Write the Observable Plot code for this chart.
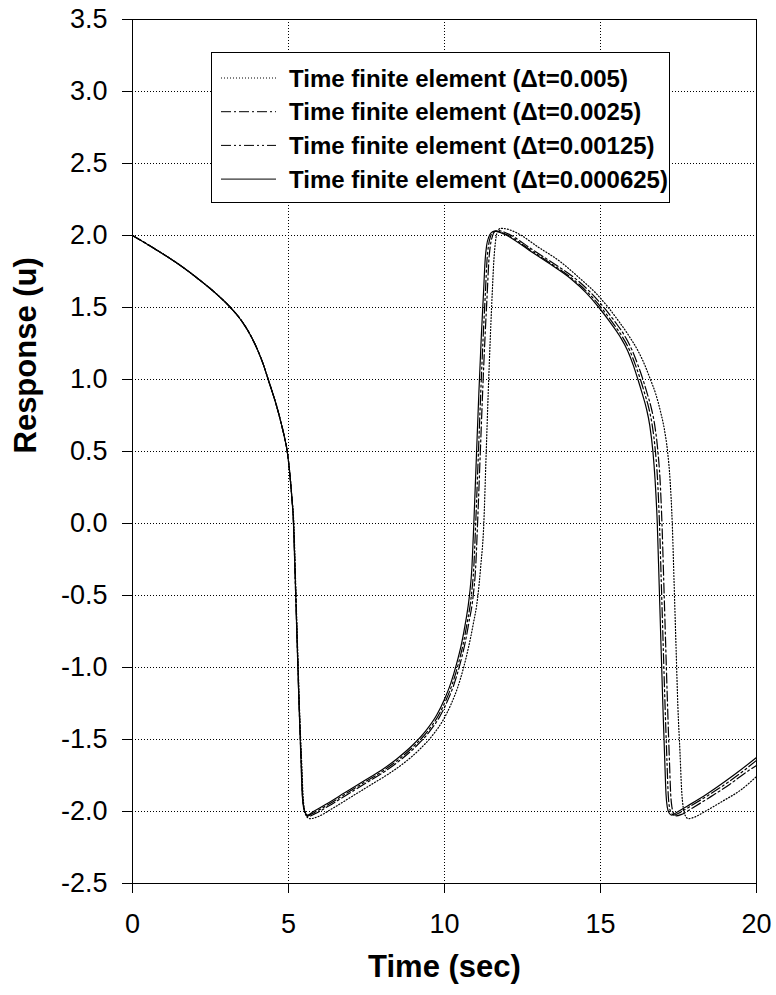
<!DOCTYPE html>
<html><head><meta charset="utf-8">
<script src="https://cdn.jsdelivr.net/npm/d3@7"></script>
<script src="https://cdn.jsdelivr.net/npm/@observablehq/plot@0.6"></script>
<style>
body{margin:0;background:#fff;}
#wrap{position:relative;width:776px;height:995px;font-family:"Liberation Sans",Arial,sans-serif;}
#legend{position:absolute;left:211px;top:52px;width:457px;height:149px;border:1px solid #000;background:#fff;}
</style></head>
<body><div id="wrap"><div id="legend"></div></div>
<script>
// ---- data ([time, response]) ----
const xTicks = [0, 5, 10, 15, 20];
const yTicks = [-2.5, -2.0, -1.5, -1.0, -0.5, 0.0, 0.5, 1.0, 1.5, 2.0, 2.5, 3.0, 3.5];
const seriesNames = [
  "Time finite element (\u0394t=0.005)",
  "Time finite element (\u0394t=0.0025)",
  "Time finite element (\u0394t=0.00125)",
  "Time finite element (\u0394t=0.000625)"
];
const dashes = ["1,2", "10,3,2,3", "10,3,2,3,2,3", null];

// common first branch (all step sizes coincide)
const common = [[0,2.0],[0.77,1.9],[1.48,1.8],[2.1,1.7],[2.66,1.6],[3.14,1.5],[3.52,1.4],[3.8,1.3],[4.02,1.2],[4.2,1.1],[4.35,1.0],[4.5,0.9],[4.64,0.8],[4.76,0.7],[4.87,0.6],[4.96,0.5],[5.04,0.35],[5.1,0.2]];

// dt = 0.005 (dotted)
const dt005 = [[5.17,0],[5.23,-0.42],[5.29,-0.85],[5.35,-1.27],[5.42,-1.65],[5.47,-1.9],[5.52,-2.0],[5.6,-2.04],
  [5.7,-2.05],[5.95,-2.035],[6.4,-1.98],[7.0,-1.9],[7.6,-1.82],[8.2,-1.74],[8.72,-1.66],[9.22,-1.565],[9.62,-1.47],[9.97,-1.36],[10.22,-1.25],[10.42,-1.14],[10.6,-1.01],[10.77,-0.86],[10.92,-0.7],[11.06,-0.52],[11.16,-0.3],[11.26,0],
  [11.33,0.45],[11.4,0.9],[11.47,1.3],[11.53,1.6],[11.58,1.82],[11.63,1.95],[11.7,2.03],[11.8,2.05],[12.0,2.045],[12.3,2.02],
  [13.0,1.92],[13.7,1.82],[14.35,1.7],[14.85,1.6],[15.25,1.5],[15.6,1.4],[15.92,1.3],[16.2,1.2],[16.42,1.1],[16.6,1.0],[16.77,0.9],[16.92,0.78],[17.05,0.65],[17.15,0.5],[17.23,0.3],[17.3,0],
  [17.36,-0.42],[17.42,-0.85],[17.48,-1.27],[17.55,-1.6],[17.6,-1.85],[17.65,-1.97],[17.72,-2.03],
  [17.82,-2.05],[18.0,-2.04],[18.35,-2.0],[18.9,-1.93],[19.5,-1.85],[20,-1.757]];

// dt = 0.0025 (long dash-dot)
const dt0025 = [[5.165,0],[5.225,-0.42],[5.285,-0.85],[5.345,-1.27],[5.41,-1.65],[5.45,-1.88],[5.49,-1.97],[5.55,-2.015],
  [5.63,-2.035],[5.85,-2.015],[6.3,-1.96],[6.9,-1.88],[7.5,-1.8],[8.1,-1.72],[8.6,-1.64],[9.1,-1.545],[9.5,-1.45],[9.85,-1.34],[10.1,-1.23],[10.3,-1.12],[10.48,-0.99],[10.65,-0.84],[10.78,-0.69],[10.92,-0.5],[11.0,-0.3],[11.06,0],
  [11.14,0.45],[11.22,0.9],[11.3,1.3],[11.37,1.6],[11.42,1.82],[11.47,1.93],[11.53,1.99],[11.6,2.025],[11.7,2.035],[11.9,2.025],[12.1,2.005],
  [12.8,1.905],[13.5,1.805],[14.17,1.705],[14.68,1.605],[15.09,1.505],[15.45,1.405],[15.77,1.305],[16.02,1.2],[16.2,1.1],[16.36,1.0],[16.5,0.9],[16.63,0.8],[16.74,0.68],[16.84,0.5],[16.91,0.3],[16.97,0],
  [17.03,-0.42],[17.09,-0.85],[17.15,-1.27],[17.21,-1.65],[17.25,-1.88],[17.29,-1.97],[17.35,-2.015],
  [17.43,-2.03],[17.6,-2.02],[17.95,-1.975],[18.55,-1.895],[19.15,-1.81],[19.65,-1.73],[20,-1.68]];

// dt = 0.00125 (dash-dot-dot)
const dt00125 = [[5.16,0],[5.22,-0.42],[5.28,-0.85],[5.34,-1.27],[5.405,-1.65],[5.445,-1.88],[5.485,-1.97],[5.545,-2.01],
  [5.62,-2.03],[5.8,-2.01],[6.25,-1.955],[6.85,-1.875],[7.45,-1.795],[8.05,-1.715],[8.55,-1.635],[9.05,-1.54],[9.45,-1.445],[9.8,-1.335],[10.05,-1.225],[10.25,-1.115],[10.43,-0.985],[10.6,-0.835],[10.73,-0.685],[10.86,-0.5],[10.94,-0.3],[11.0,0],
  [11.08,0.45],[11.16,0.9],[11.24,1.3],[11.31,1.6],[11.36,1.82],[11.41,1.93],[11.47,1.99],[11.55,2.02],[11.65,2.03],[11.85,2.02],[12.05,2.0],
  [12.75,1.9],[13.45,1.8],[14.1,1.7],[14.61,1.6],[15.02,1.5],[15.37,1.4],[15.69,1.3],[15.94,1.2],[16.12,1.1],[16.28,1.0],[16.42,0.9],[16.55,0.8],[16.66,0.68],[16.76,0.5],[16.83,0.3],[16.89,0],
  [16.95,-0.42],[17.01,-0.85],[17.07,-1.27],[17.13,-1.65],[17.17,-1.88],[17.21,-1.97],[17.27,-2.01],
  [17.35,-2.025],[17.52,-2.01],[17.87,-1.965],[18.47,-1.885],[19.07,-1.8],[19.57,-1.72],[20,-1.645]];

// dt = 0.000625 (solid)
const dt000625 = [[5.16,0],[5.22,-0.42],[5.28,-0.85],[5.34,-1.27],[5.4,-1.65],[5.44,-1.88],[5.48,-1.97],[5.54,-2.01],
  [5.61,-2.025],[5.8,-2.0],[6.2,-1.95],[6.8,-1.87],[7.4,-1.79],[8.0,-1.71],[8.5,-1.63],[9.0,-1.535],[9.4,-1.44],[9.75,-1.33],[10.0,-1.22],[10.2,-1.11],[10.38,-0.98],[10.55,-0.83],[10.68,-0.68],[10.8,-0.5],[10.88,-0.3],[10.94,0],
  [11.02,0.45],[11.1,0.9],[11.18,1.3],[11.25,1.6],[11.3,1.82],[11.35,1.93],[11.42,1.99],[11.5,2.02],[11.6,2.03],[11.8,2.02],[12.0,2.0],
  [12.7,1.9],[13.4,1.8],[14.05,1.7],[14.55,1.6],[14.95,1.5],[15.3,1.4],[15.62,1.3],[15.87,1.2],[16.05,1.1],[16.2,1.0],[16.34,0.9],[16.47,0.8],[16.58,0.68],[16.68,0.5],[16.75,0.3],[16.82,0],
  [16.88,-0.42],[16.94,-0.85],[17.0,-1.27],[17.06,-1.65],[17.1,-1.88],[17.14,-1.97],[17.2,-2.01],
  [17.28,-2.025],[17.45,-2.005],[17.8,-1.96],[18.4,-1.88],[19.0,-1.79],[19.5,-1.71],[20,-1.625]];

const seriesData = [dt005, dt0025, dt00125, dt000625];

// ---- build tables ----
const tables = seriesData.map(tail => common.concat(tail).map(([t, u]) => ({t, u})));

const font = "Liberation Sans, Arial, Helvetica, sans-serif";
const lineMarks = tables.map((rows, i) => Plot.line(rows, {
  x: "t", y: "u", stroke: "#000", strokeWidth: 1.2,
  strokeDasharray: dashes[i] || undefined, curve: "monotone-x"
}));

const chart = Plot.plot({
  width: 776, height: 995,
  marginTop: 19, marginBottom: 112, marginLeft: 132, marginRight: 20,
  style: {fontFamily: font, background: "#fff", color: "#000", overflow: "visible"},
  x: {domain: [0, 20]},
  y: {domain: [-2.5, 3.5]},
  marks: [
    Plot.gridX(xTicks.slice(1, -1), {stroke: "#000", strokeOpacity: 1, strokeDasharray: "1,2"}),
    Plot.gridY(yTicks.slice(1, -1), {stroke: "#000", strokeOpacity: 1, strokeDasharray: "1,2"}),
    ...lineMarks,
    Plot.frame({stroke: "#000"}),
    Plot.axisX(xTicks, {tickSize: 10, tickPadding: 20, fontSize: 27, label: null, tickFormat: d => String(d)}),
    Plot.axisY(yTicks, {tickSize: 10, tickPadding: 15, fontSize: 27, label: null, tickFormat: d => d.toFixed(1)}),
    Plot.text(["Time (sec)"], {frameAnchor: "bottom", dy: 93, fontSize: 31, fontWeight: "bold", fill: "#000"}),
    Plot.text(["Response (u)"], {frameAnchor: "left", dx: -106, dy: 2, rotate: -90, fontSize: 31, fontWeight: "bold", fill: "#000"})
  ]
});
document.getElementById("wrap").prepend(chart);

// ---- legend ----
const lg = d3.select("#legend").append("svg").attr("width", 457).attr("height", 149)
  .style("font-family", font);
seriesNames.forEach((name, i) => {
  const y = 25 + i * 33.7;
  const ln = lg.append("line").attr("x1", 9).attr("x2", 64).attr("y1", y).attr("y2", y)
    .attr("stroke", "#000").attr("stroke-width", 1);
  if (dashes[i]) ln.attr("stroke-dasharray", dashes[i]);
  lg.append("text").attr("x", 77).attr("y", y).attr("dy", "0.36em")
    .attr("font-size", 24).attr("font-weight", "bold").text(name);
});
</script>
</body></html>
